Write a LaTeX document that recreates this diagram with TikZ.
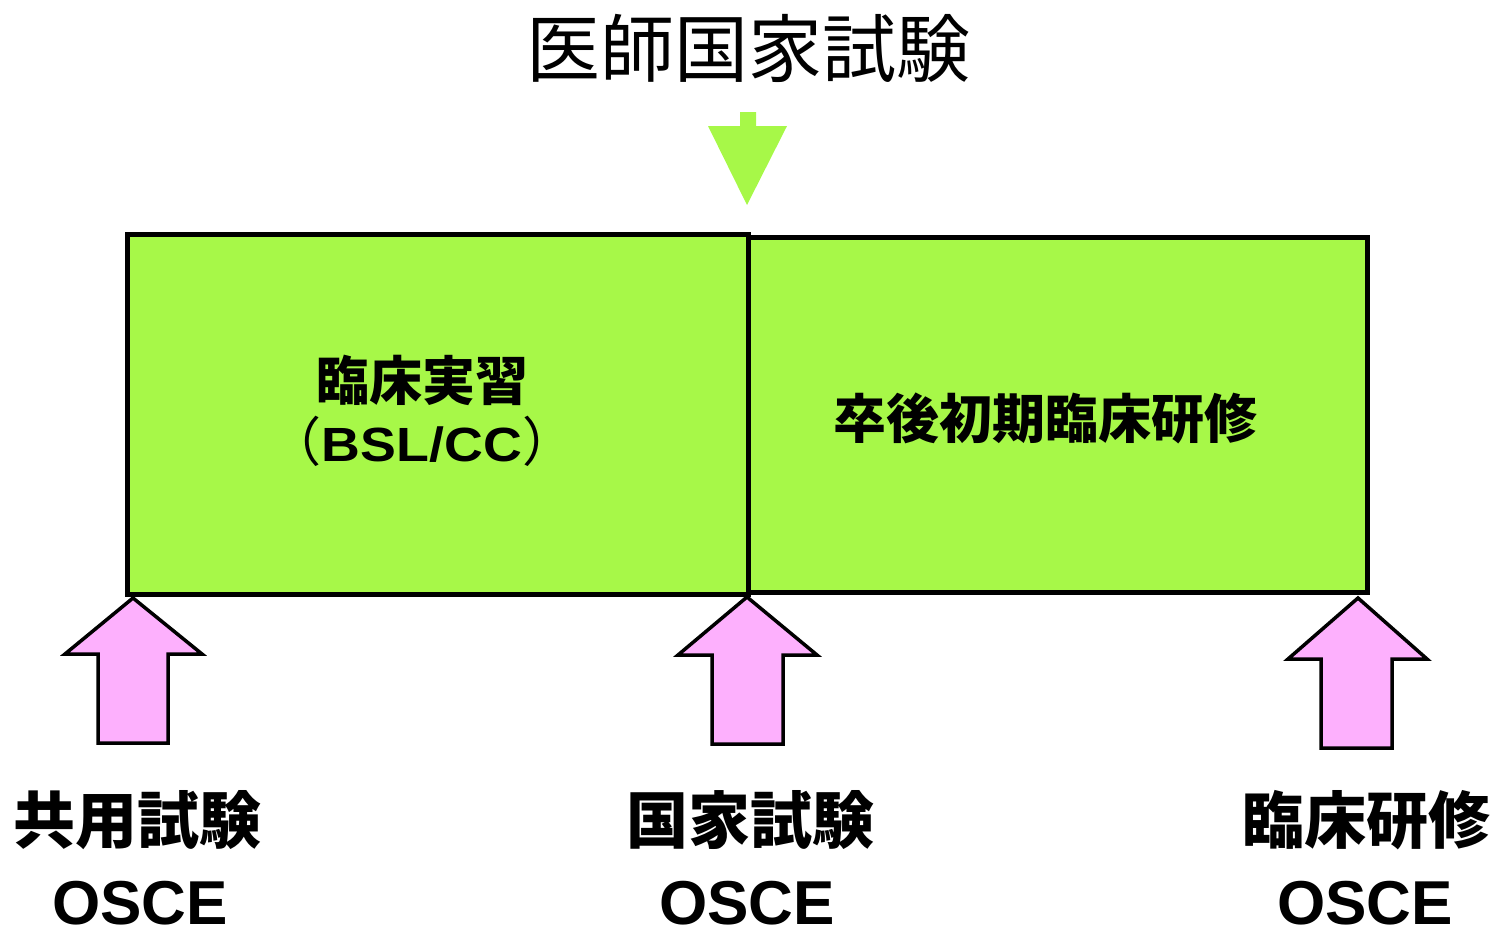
\documentclass[tikz,border=0pt]{standalone}
\usepackage{fontspec}
\setmainfont{Liberation Sans}
\newfontfamily\cjk{Noto Sans CJK JP}
\newfontfamily\widesans[FakeStretch=1.12]{Liberation Sans}
\definecolor{boxgreen}{RGB}{167,248,72}
\definecolor{arrowpink}{RGB}{253,176,253}
\tikzset{
  greenbox/.style={draw=black, line width=5pt, fill=boxgreen},
  pinkarrow/.style={draw=black, line width=3.5pt, fill=arrowpink, line join=miter},
  titletext/.style={inner sep=0pt, font=\cjk\fontsize{74}{80}\selectfont},
  boxtext/.style={inner sep=0pt, font=\cjk\bfseries\fontsize{53}{60}\selectfont},
  labeltext/.style={inner sep=0pt, font=\cjk\bfseries\fontsize{62}{70}\selectfont},
  oscetext/.style={inner sep=0pt, font=\bfseries\fontsize{62}{70}\selectfont}
}
\begin{document}
\begin{tikzpicture}[x=1pt,y=-1pt]
\useasboundingbox (0,0) rectangle (1499,930);
% title
\node[titletext] (title) at (748.5,48) {医師国家試験};
% down arrow
\fill[boxgreen] (740,112) -- (756,112) -- (756,126) -- (787,126) -- (747,205) -- (708,126) -- (740,126) -- cycle;
% boxes
\draw[greenbox] (127,234.5) rectangle (748,594);
\draw[greenbox] (748,237) rectangle (1367,592);
\node[boxtext] (bsl1) at (422,380) {臨床実習};
\node[boxtext] (bsl2) at (422,441) {{\mdseries （}{\widesans\bfseries\fontsize{48}{52}\selectfont BSL/CC}{\mdseries ）}};
\node[boxtext] (pg) at (1045,418) {卒後初期臨床研修};
% pink arrows
\draw[pinkarrow] (133,598) -- (202,654) -- (168,654) -- (168,743) -- (98,743) -- (98,654) -- (65,654) -- cycle;
\draw[pinkarrow] (747,597) -- (817,655) -- (783,655) -- (783,744) -- (712,744) -- (712,655) -- (678,655) -- cycle;
\draw[pinkarrow] (1358,598) -- (1427,659) -- (1392,659) -- (1392,748) -- (1321,748) -- (1321,659) -- (1288,659) -- cycle;
% bottom labels
\node[labeltext] (lab1) at (137,820) {共用試験};
\node[oscetext] (osce1) at (140,903.5) {OSCE};
\node[labeltext] (lab2) at (750,820) {国家試験};
\node[oscetext] (osce2) at (747,903.5) {OSCE};
\node[labeltext] (lab3) at (1366,820) {臨床研修};
\node[oscetext] (osce3) at (1365,903.5) {OSCE};
\end{tikzpicture}
\end{document}
